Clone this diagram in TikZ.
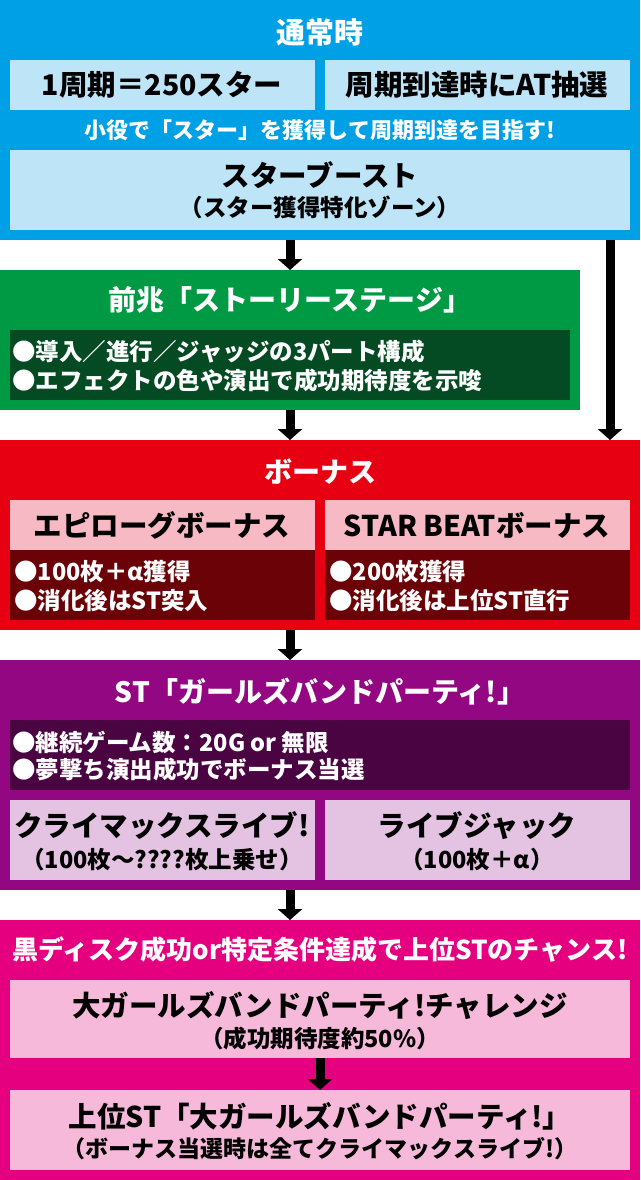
\documentclass[tikz,border=0pt]{standalone}
\usepackage{fontspec}
\setmainfont{Noto Sans CJK JP}[BoldFont={Noto Sans CJK JP Black}]
\usetikzlibrary{arrows.meta}
\definecolor{cblue}{HTML}{00A0E6}
\definecolor{cbluel}{HTML}{BEE4F8}
\definecolor{cgreen}{HTML}{009A44}
\definecolor{cgreend}{HTML}{044A22}
\definecolor{cred}{HTML}{E60012}
\definecolor{credl}{HTML}{F7BAC4}
\definecolor{credd}{HTML}{6B0208}
\definecolor{cpur}{HTML}{930783}
\definecolor{cpurd}{HTML}{4A0442}
\definecolor{cpurl}{HTML}{E4C2E1}
\definecolor{cmag}{HTML}{E4007F}
\definecolor{cmagl}{HTML}{F6B9DA}
\tikzset{
  rbox/.style={anchor=north west, inner sep=0pt, outer sep=0pt, draw=none},
  arr/.style={line width=9pt, -{Triangle[width=24pt,length=11pt]}, black},
  ttl/.style={text=white, inner sep=0pt, font=\bfseries\fontsize{28}{30}\selectfont},
  btx/.style={text=black, inner sep=0pt, font=\bfseries\fontsize{28.5}{30}\selectfont},
  stx/.style={text=black, inner sep=0pt, font=\bfseries\fontsize{23.5}{26}\selectfont},
  ltx/.style={text=white, inner sep=0pt, anchor=west, font=\bfseries\fontsize{23.5}{26}\selectfont},
}
\newcommand{\mkbox}[6]{\node[rbox, fill=#6, minimum width=#4pt, minimum height=#5pt] (#1) at (#2,#3) {};}
\begin{document}
\begin{tikzpicture}[x=1pt,y=-1pt]
\useasboundingbox[fill=white] (0,0) rectangle (640,1180);
% sections
\mkbox{blue}{0}{0}{640}{240}{cblue}
\mkbox{b1}{10}{60}{305}{50}{cbluel}
\mkbox{b2}{325}{60}{305}{50}{cbluel}
\mkbox{b3}{10}{150}{620}{80}{cbluel}
\mkbox{green}{0}{270}{580}{140}{cgreen}
\mkbox{gd}{10}{330}{560}{70}{cgreend}
\mkbox{red}{0}{440}{640}{190}{cred}
\mkbox{rp1}{10}{500}{305}{50}{credl}
\mkbox{rd1}{10}{550}{305}{70}{credd}
\mkbox{rp2}{325}{500}{305}{50}{credl}
\mkbox{rd2}{325}{550}{305}{70}{credd}
\mkbox{pur}{0}{660}{640}{230}{cpur}
\mkbox{pd}{10}{720}{620}{70}{cpurd}
\mkbox{pl1}{10}{800}{305}{80}{cpurl}
\mkbox{pl2}{325}{800}{305}{80}{cpurl}
\mkbox{mag}{0}{920}{640}{260}{cmag}
\mkbox{m1}{10}{980}{620}{78}{cmagl}
\mkbox{m2}{10}{1090}{620}{80}{cmagl}
% texts: blue
\node[ttl, font=\bfseries\fontsize{29}{30}\selectfont] (t1) at (320,32) {通常時};
\node[btx] (t1a) at (162,85) {1周期＝250スター};
\node[btx] (t1b) at (477,85) {周期到達時にAT抽選};
\node[ttl, font=\bfseries\fontsize{22}{24}\selectfont] (t1c) at (320,130) {小役で「スター」を獲得して周期到達を目指す!};
\node[btx] (t1d) at (320,175) {スターブースト};
\node[stx] (t1e) at (320,207) {（スター獲得特化ゾーン）};
% green
\node[ttl] (t2) at (290,300) {前兆「ストーリーステージ」};
\node[ltx] (t2a) at (12,352) {●導入／進行／ジャッジの3パート構成};
\node[ltx] (t2b) at (12,381) {●エフェクトの色や演出で成功期待度を示唆};
% red
\node[ttl] (t3) at (320,472) {ボーナス};
\node[btx] (t3a) at (162,525) {エピローグボーナス};
\node[btx] (t3b) at (477,525) {STAR BEATボーナス};
\node[ltx] (t3c) at (14,572) {●100枚＋α獲得};
\node[ltx] (t3d) at (14,601) {●消化後はST突入};
\node[ltx] (t3e) at (329,572) {●200枚獲得};
\node[ltx] (t3f) at (329,601) {●消化後は上位ST直行};
% purple
\node[ttl] (t4) at (320,692) {ST「ガールズバンドパーティ!」};
\node[ltx] (t4a) at (12,742) {●継続ゲーム数：20G or 無限};
\node[ltx] (t4b) at (12,770) {●夢撃ち演出成功でボーナス当選};
\node[btx] (t4c) at (162,826) {クライマックスライブ!};
\node[stx] (t4d) at (162,860) {（100枚～????枚上乗せ）};
\node[btx] (t4e) at (477,826) {ライブジャック};
\node[stx] (t4f) at (477,860) {（100枚＋α）};
% magenta
\node[ttl, font=\bfseries\fontsize{26}{28}\selectfont] (t5) at (320,950) {黒ディスク成功or特定条件達成で上位STのチャンス!};
\node[btx] (t5a) at (320,1006) {大ガールズバンドパーティ!チャレンジ};
\node[stx] (t5b) at (320,1039) {（成功期待度約50\%）};
\node[btx] (t5c) at (320,1116) {上位ST「大ガールズバンドパーティ!」};
\node[stx, font=\bfseries\fontsize{23}{26}\selectfont] (t5d) at (320,1149) {（ボーナス当選時は全てクライマックスライブ!）};
% arrows
\coordinate (ax) at (290,0);
\coordinate (rx) at (610,0);
\coordinate (mx) at (320,0);
\draw[arr] (blue.south -| ax) -- (green.north -| ax);
\draw[arr] (blue.south -| rx) -- (red.north -| rx);
\draw[arr] (green.south -| ax) -- (red.north -| ax);
\draw[arr] (red.south -| ax) -- (pur.north -| ax);
\draw[arr] (pur.south -| ax) -- (mag.north -| ax);
\draw[arr] (m1.south -| mx) -- (m2.north -| mx);
\end{tikzpicture}
\end{document}
